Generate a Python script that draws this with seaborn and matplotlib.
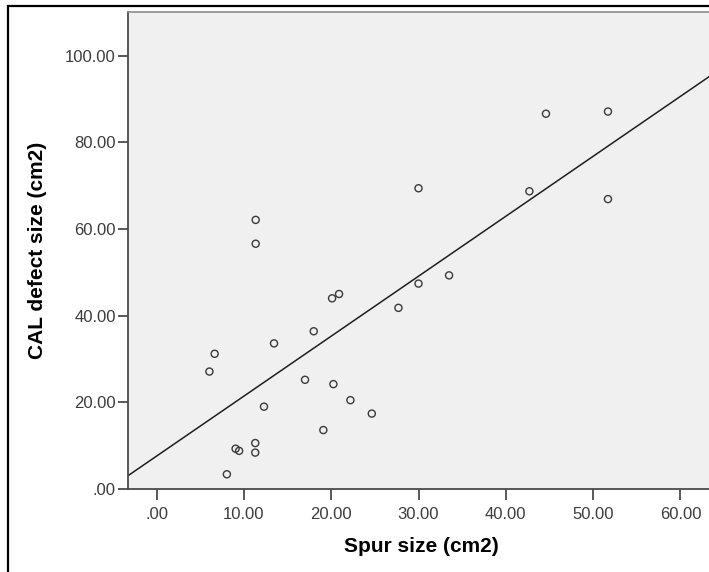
import matplotlib
matplotlib.use("Agg")
import matplotlib.pyplot as plt
from matplotlib.patches import Rectangle
import seaborn as sns
import pandas as pd

# Spur size vs CAL defect size, one point per case
spur_size = [44.6, 51.7, 30.0, 42.7, 51.7, 11.35, 11.35, 20.9, 20.1, 30.0,
             33.5, 27.7, 18.0, 13.45, 6.65, 6.05, 17.0, 20.25, 22.2, 12.3,
             24.65, 19.1, 11.3, 9.05, 9.45, 11.3, 8.05]
cal_defect = [86.6, 87.1, 69.4, 68.7, 66.9, 62.1, 56.6, 45.0, 44.0, 47.4,
              49.3, 41.8, 36.4, 33.6, 31.2, 27.1, 25.2, 24.2, 20.5, 19.0,
              17.4, 13.6, 10.6, 9.3, 8.8, 8.4, 3.4]

x_ticks = [0, 10, 20, 30, 40, 50, 60]
x_tick_labels = [".00", "10.00", "20.00", "30.00", "40.00", "50.00", "60.00"]
y_ticks = [0, 20, 40, 60, 80, 100]
y_tick_labels = [".00", "20.00", "40.00", "60.00", "80.00", "100.00"]

df = pd.DataFrame({"Spur size (cm2)": spur_size,
                   "CAL defect size (cm2)": cal_defect})

sns.set_theme(style="white")
plt.rcParams["font.family"] = ["Liberation Sans", "DejaVu Sans"]

W, H = 709, 572
fig = plt.figure(figsize=(W / 100, H / 100), dpi=100)
fig.patch.set_facecolor("white")

# plot panel in pixel terms: left 127.7, top 12.3, bottom 489, right runs past the edge
ax = fig.add_axes([127.7 / W, (H - 489) / H, (715 - 127.7) / W, (489 - 12.3) / H])
ax.set_facecolor("#f0f0f0")

xlim = (-3.31, 63.96)
ylim = (0, 110)
ax.set_xlim(*xlim)
ax.set_ylim(*ylim)

sns.regplot(data=df, x="Spur size (cm2)", y="CAL defect size (cm2)", ax=ax,
            scatter=False, ci=None, truncate=False,
            line_kws={"color": "#1e1e1e", "linewidth": 1.1})
sns.scatterplot(data=df, x="Spur size (cm2)", y="CAL defect size (cm2)", ax=ax,
                marker="o", s=26, facecolor="none", edgecolor="#3a3a3a",
                linewidth=1.0, zorder=3)

ax.set_xlim(*xlim)
ax.set_ylim(*ylim)

ax.set_xticks(x_ticks)
ax.set_xticklabels(x_tick_labels)
ax.set_yticks(y_ticks)
ax.set_yticklabels(y_tick_labels)
ax.tick_params(axis="both", direction="out", length=8, width=1.2,
               color="#3c3c3c", labelsize=12, labelcolor="#3c3c3c", pad=5,
               bottom=True, left=True)
ax.tick_params(axis="y", length=7.5, pad=1)

for side in ("left", "bottom"):
    ax.spines[side].set_color("#4a4a4a")
    ax.spines[side].set_linewidth(1.3)
ax.spines["top"].set_color("#8c8c8c")
ax.spines["top"].set_linewidth(1.2)
ax.spines["right"].set_visible(False)
ax.grid(False)

ax.set_xlabel("Spur size (cm2)", fontsize=15, fontweight="bold", color="black",
              labelpad=11)
ax.set_ylabel("CAL defect size (cm2)", fontsize=15, fontweight="bold",
              color="black", labelpad=13)

# outer chart frame
fig.patches.append(Rectangle((8 / W, -0.05), 1.2, (H - 5.5) / H + 0.05,
                             transform=fig.transFigure, fill=False,
                             edgecolor="black", linewidth=1.6))

fig.savefig("out.png", dpi=100)
